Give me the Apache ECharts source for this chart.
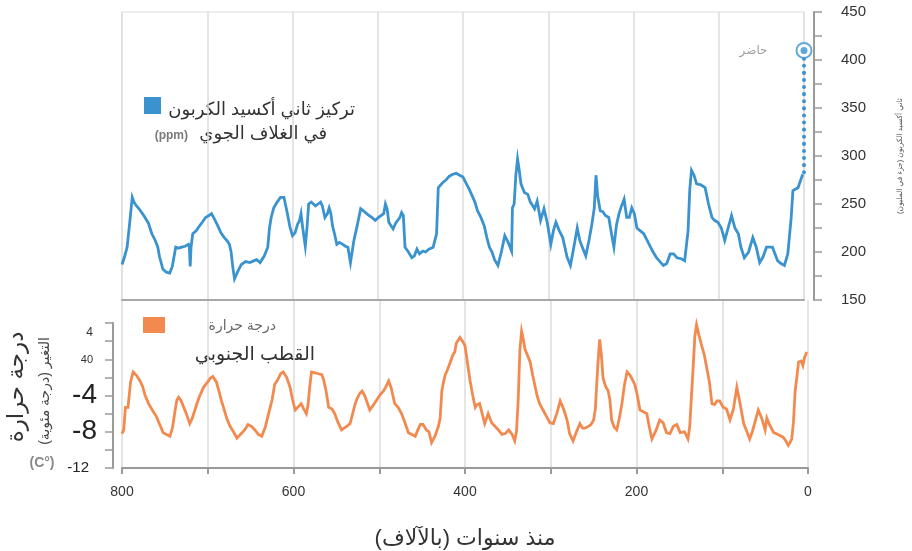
<!DOCTYPE html>
<html>
<head>
<meta charset="utf-8">
<script src="https://cdn.jsdelivr.net/npm/echarts@6/dist/echarts.min.js"></script>
<style>
  html, body { margin: 0; padding: 0; background: #fff; }
  #chart { width: 912px; height: 551px; }
</style>
</head>
<body>
<div id="chart"></div>
<script>
// CO2 record (thousands of years ago, ppm)
const co2Age = [1.5, 7, 13, 15, 19, 23, 27, 31, 37, 44, 48, 52, 56, 60, 65, 70, 74, 77, 81, 85, 89, 93, 97, 101, 105, 108, 112, 116, 121, 126, 129, 132, 134, 136, 140, 144, 149, 153, 157, 161, 165, 169, 173, 177, 180, 184, 188, 192, 196, 199, 202, 205, 208, 211, 214, 217, 220, 223, 226, 229, 233, 236, 239, 242, 244, 246, 249, 252, 256, 260, 263, 266, 270, 274, 278, 283, 287, 291, 294, 297, 301, 305, 309, 313, 316, 318, 321, 324, 328, 332, 334, 336, 338, 340, 342, 343, 347, 351, 355, 359, 363, 366, 369, 372, 375, 379, 383, 386, 390, 393, 396, 400, 404, 408, 412, 416, 420, 423, 426, 429, 431, 435, 440, 444, 447, 451, 454, 457, 460, 464, 468, 470, 472, 474, 476, 479, 482, 485, 487, 489, 491, 493, 495, 499, 503, 507, 510, 513, 517, 520, 524, 528, 532, 535, 538, 541, 545, 548, 551, 553, 555, 557, 559, 562, 565, 567, 570, 573, 575, 578, 581, 583, 585, 588, 590, 592, 594, 597, 600, 603, 606, 610, 614, 618, 622, 625, 627, 629, 633, 638, 642, 645, 650, 655, 660, 664, 668, 670, 672, 674, 677, 680, 684, 688, 692, 695, 698, 702, 705, 707, 710, 713, 717, 719, 720, 721, 722, 726, 730, 734, 737, 739, 741, 744, 748, 752, 756, 758, 761, 765, 769, 773, 776, 780, 783, 786, 788, 791, 794, 797, 800];
const co2Ppm = [281, 267, 264, 236, 198, 186, 188, 191, 205, 205, 195, 189, 205, 215, 200, 194, 205, 219, 225, 238, 225, 212, 225, 231, 233, 236, 250, 267, 270, 271, 280, 285, 265, 222, 191, 193, 194, 198, 198, 188, 186, 190, 194, 200, 205, 212, 219, 222, 225, 240, 246, 236, 236, 255, 248, 240, 228, 205, 220, 236, 238, 242, 243, 258, 280, 246, 228, 213, 196, 205, 212, 225, 205, 186, 195, 215, 222, 231, 222, 208, 230, 245, 233, 253, 245, 248, 252, 260, 262, 271, 285, 297, 280, 250, 246, 201, 210, 217, 200, 186, 192, 200, 205, 215, 227, 236, 243, 252, 260, 266, 271, 278, 280, 282, 281, 279, 275, 273, 270, 267, 219, 205, 203, 200, 201, 198, 203, 196, 194, 200, 205, 238, 241, 236, 236, 230, 224, 228, 231, 245, 250, 240, 240, 236, 233, 236, 238, 240, 243, 245, 228, 212, 189, 205, 206, 208, 210, 208, 220, 227, 240, 246, 240, 236, 248, 252, 250, 248, 250, 252, 250, 225, 206, 225, 240, 232, 229, 220, 217, 226, 240, 257, 257, 252, 246, 236, 225, 205, 196, 189, 192, 191, 189, 190, 187, 180, 172, 184, 200, 208, 212, 215, 220, 228, 235, 240, 238, 236, 232, 231, 226, 222, 219, 205, 185, 205, 208, 206, 205, 204, 205, 206, 185, 178, 179, 182, 195, 205, 212, 219, 230, 236, 240, 245, 248, 252, 257, 230, 205, 195, 187];

// present-day value
const presentAge = [0, 0];
const presentPpm = [283, 410];

// Antarctic temperature change (thousands of years ago, degrees C)
const tempAge = [1.5, 4, 6, 8, 11, 13, 15, 17, 19, 21, 23, 26, 29, 31, 35, 40, 45, 48, 50, 54, 58, 62, 65, 68, 72, 75, 79, 83, 87, 91, 95, 99, 103, 106, 109, 112, 115, 118, 121, 124, 127, 130, 132, 134, 136, 138, 140, 144, 149, 153, 157, 161, 165, 169, 173, 177, 182, 185, 188, 192, 196, 199, 202, 205, 208, 211, 214, 217, 220, 223, 226, 229, 231, 233, 236, 239, 241, 243, 245, 246, 248, 250, 253, 256, 260, 263, 266, 270, 274, 278, 281, 285, 289, 293, 297, 301, 305, 309, 313, 316, 318, 321, 324, 327, 330, 332, 334, 336, 338, 340, 342, 345, 349, 353, 357, 361, 365, 369, 373, 377, 380, 383, 386, 388, 391, 394, 397, 400, 403, 406, 408, 410, 412, 414, 416, 419, 421, 423, 425, 427, 429, 431, 435, 439, 442, 445, 449, 452, 455, 458, 462, 466, 470, 474, 478, 482, 486, 489, 492, 495, 498, 501, 505, 508, 511, 514, 517, 520, 523, 526, 528, 531, 534, 538, 541, 544, 548, 552, 555, 559, 562, 565, 567, 571, 575, 579, 581, 583, 585, 588, 591, 594, 598, 601, 604, 606, 608, 610, 612, 615, 618, 622, 625, 629, 633, 637, 641, 645, 649, 653, 657, 662, 666, 670, 674, 678, 681, 684, 687, 690, 694, 697, 700, 705, 710, 713, 715, 718, 721, 725, 728, 731, 734, 736, 738, 741, 744, 748, 752, 756, 760, 764, 769, 773, 776, 779, 783, 787, 790, 793, 796, 798, 800];
const tempC = [0.8, 0.2, -0.7, -0.2, -0.3, -2, -3.5, -7, -8.8, -9.2, -9.5, -9.0, -8.6, -8.8, -8.3, -8.1, -7.2, -6.5, -7.8, -6.5, -5.6, -7.0, -8.0, -8.8, -7.8, -7.1, -5.0, -3.1, -5.5, -6.7, -5.5, -5.3, -4.6, -4.6, -5.0, -4.9, -2.5, -1.0, 0.5, 1.5, 2.6, 3.8, 2.5, -1, -4.2, -7.5, -8.8, -8.0, -8.1, -7.2, -7.4, -8.2, -8.1, -7.0, -6.7, -7.8, -8.8, -7.5, -6.0, -5.8, -5.6, -4.0, -2.8, -2.2, -1.7, -1.4, -2.8, -4.9, -6.5, -7.8, -7.5, -6.7, -4.5, -3.5, -3.0, -2.1, 0.5, 2.2, -0.5, -2.1, -5.5, -6.7, -7.2, -7.4, -7.6, -7.6, -7.1, -8.0, -9.0, -8.2, -6.7, -5.5, -4.6, -6.0, -7.1, -7.0, -6.3, -5.6, -4.9, -4.0, -3.1, -1.8, -0.3, 0.4, 1.1, 2.2, 3.1, 1.0, -4.6, -8.0, -9.0, -8.3, -7.8, -8.2, -8.3, -7.8, -7.4, -7.0, -6.0, -7.1, -6.0, -4.9, -5.0, -5.3, -4.0, -2.4, -0.5, 1.5, 2.0, 2.4, 2.4, 1.8, 0.8, 0.5, 0.4, -0.8, -1.3, -1.7, -2.5, -3.5, -6.5, -7.4, -8.5, -9.2, -8.0, -7.8, -7.2, -7.2, -7.8, -8.5, -8.3, -8.1, -7.0, -6.0, -5.3, -4.9, -3.2, -2.4, -3.0, -3.5, -3.8, -4.2, -4.8, -5.2, -5.6, -4.8, -4.0, -3.5, -3.8, -4.4, -4.9, -6.0, -7.1, -7.4, -7.6, -7.8, -7.0, -6.0, -5.5, -5.3, -3.5, -2.2, -1.7, -1.6, -1.5, -1.4, -3.0, -5.0, -6.0, -5.5, -4.9, -5.2, -5.6, -4.5, -3.1, -3.1, -2.0, -1.7, -1.4, -1.6, -2.2, -2.8, -4.5, -6.0, -7.5, -8.5, -8.3, -7.8, -7.4, -7.2, -7.8, -8.3, -8.7, -8.0, -7.4, -6.5, -5.5, -4.6, -3.5, -2.5, -1.9, -2.1, -2.5, -3.1, -4.2, -5.0, -4.9, -6.5, -7.1, -6.0, -5.3, -4.6, -4.2, -4.5, -5.6, -7.5, -8.5, -8.3, -8.1, -7.2, -6.3, -5.7, -4.9, -4.0, -3.0, -2.4, -1.8, -1.4, -2.5, -5.3, -5.3, -7.8, -8.2];

// tick labels
const co2Ticks = [150, 200, 250, 300, 350, 400, 450];
const tempTicks = [-12, -8, -4, 0, 4];
const tempTickText = { '-12': '-12', '-8': '-8', '-4': '-4', '0': '40', '4': '4' };
const ageTicks = [0, 200, 400, 600, 800];

const RLM = '\u200F';
const FONT = 'Liberation Sans, DejaVu Sans, sans-serif';
const BLUE = '#3a93cf';
const ORANGE = '#f28a4f';
const GRID_LINE = '#dcdcdc';
const AXIS_LINE = '#9a9a9a';

function pairs(xs, ys) {
    return xs.map(function (x, i) { return [x, ys[i]]; });
}

let chart = echarts.init(document.getElementById('chart'), null, { renderer: 'canvas' });

const ageAxisBase = {
    type: 'value',
    inverse: true,
    min: 0,
    max: 800,
    interval: 100,
    splitLine: { show: true, lineStyle: { color: GRID_LINE, width: 1.5 } },
    axisTick: { show: false },
    axisLabel: { show: false },
};

const option = {
    backgroundColor: '#fff',
    animation: false,
    textStyle: { fontFamily: FONT },
    grid: [
        { left: 122, width: 686, top: 12, height: 288, show: true, borderColor: '#dddddd', borderWidth: 1 },
        { left: 122, width: 686, top: 323, height: 150 },
        { left: 122, width: 686, top: 300, height: 23 },
    ],
    xAxis: [
        Object.assign({}, ageAxisBase, {
            gridIndex: 0,
            position: 'bottom',
            axisLine: { show: true, onZero: false, lineStyle: { color: '#a8a8a8', width: 2 } },
        }),
        Object.assign({}, ageAxisBase, {
            gridIndex: 1,
            position: 'bottom',
            axisLine: { show: true, onZero: false, lineStyle: { color: AXIS_LINE, width: 2 } },
            axisTick: { show: true, length: 6, lineStyle: { color: AXIS_LINE, width: 2 } },
            axisLabel: {
                show: true,
                margin: 17,
                fontSize: 14,
                color: '#333',
                formatter: function (v) { return ageTicks.indexOf(v) >= 0 ? String(v) : ''; },
            },
            name: RLM + 'منذ سنوات (بالآلاف)' + RLM,
            nameLocation: 'middle',
            nameGap: 60,
            nameTextStyle: { fontSize: 22, color: '#333' },
        }),
        Object.assign({}, ageAxisBase, {
            gridIndex: 2,
            axisLine: { show: false, onZero: false },
        }),
    ],
    yAxis: [
        {
            type: 'value',
            gridIndex: 0,
            position: 'right',
            offset: 10,
            min: 150,
            max: 450,
            interval: 25,
            splitLine: { show: false },
            axisLine: { show: true, onZero: false, lineStyle: { color: AXIS_LINE, width: 2 } },
            axisTick: { show: true, length: 8, lineStyle: { color: AXIS_LINE, width: 1.5 } },
            axisLabel: {
                margin: 27,
                fontSize: 15,
                color: '#333',
                formatter: function (v) { return co2Ticks.indexOf(v) >= 0 ? String(v) : ''; },
            },
            name: RLM + 'ثاني أكسيد الكربون (جزء في المليون)' + RLM,
            nameLocation: 'middle',
            nameRotate: 90,
            nameGap: 82,
            nameTextStyle: { fontSize: 7.5, color: '#555' },
        },
        {
            type: 'value',
            gridIndex: 1,
            position: 'left',
            offset: 9,
            min: -12,
            max: 4,
            interval: 2,
            splitLine: { show: false },
            axisLine: { show: true, onZero: false, lineStyle: { color: AXIS_LINE, width: 2 } },
            axisTick: { show: true, length: 8, lineStyle: { color: AXIS_LINE, width: 1.5 } },
            axisLabel: {
                margin: 16,
                color: '#222',
                formatter: function (v) {
                    if (tempTicks.indexOf(v) < 0) return '';
                    const t = tempTickText[String(v)];
                    if (v === 4) return '{s4|' + t + '}';
                    if (v === 0) return '{s0|' + t + '}';
                    if (v === -12) return '{m|' + t + '}';
                    return '{b|' + t + '}';
                },
                rich: {
                    s4: { fontSize: 12, color: '#333', padding: [20, 4, 0, 0] },
                    s0: { fontSize: 11, color: '#333', padding: [2, 4, 0, 0] },
                    m: { fontSize: 15, color: '#222', padding: [0, 8, 0, 0] },
                    b: { fontSize: 28, color: '#222' },
                },
            },
        },
        {
            type: 'value',
            gridIndex: 2,
            show: false,
            splitLine: { show: false },
        },
    ],
    series: [
        {
            name: 'co2',
            type: 'line',
            xAxisIndex: 0,
            yAxisIndex: 0,
            data: pairs(co2Age, co2Ppm),
            showSymbol: false,
            clip: false,
            lineStyle: { color: BLUE, width: 2.8, join: 'miter' },
            z: 3,
        },
        {
            name: 'present',
            type: 'line',
            xAxisIndex: 0,
            yAxisIndex: 0,
            data: pairs(presentAge, presentPpm),
            showSymbol: false,
            clip: false,
            lineStyle: { color: BLUE, width: 4, type: [0.1, 7], cap: 'round' },
            z: 3,
        },
        {
            name: 'present-ring',
            type: 'scatter',
            xAxisIndex: 0,
            yAxisIndex: 0,
            data: [[presentAge[1], presentPpm[1]]],
            symbol: 'circle',
            symbolSize: 15,
            clip: false,
            itemStyle: { color: '#fff', borderColor: BLUE, borderWidth: 2 },
            label: {
                show: true,
                position: 'left',
                distance: 28,
                formatter: 'حاضر',
                fontSize: 12,
                color: '#888',
            },
            z: 4,
        },
        {
            name: 'present-dot',
            type: 'scatter',
            xAxisIndex: 0,
            yAxisIndex: 0,
            data: [[presentAge[1], presentPpm[1]]],
            symbol: 'circle',
            symbolSize: 7,
            clip: false,
            itemStyle: { color: BLUE },
            z: 5,
        },
        {
            name: 'temp',
            type: 'line',
            xAxisIndex: 1,
            yAxisIndex: 1,
            data: pairs(tempAge, tempC),
            showSymbol: false,
            clip: false,
            lineStyle: { color: ORANGE, width: 2.8, join: 'miter' },
            z: 3,
        },
    ],
    graphic: [
        // CO2 key
        { type: 'rect', shape: { x: 144, y: 97, width: 17, height: 17 }, style: { fill: BLUE } },
        { type: 'text', x: 355, y: 110, style: { text: 'تركيز ثاني أكسيد الكربون', fontSize: 18, fill: '#333', align: 'right', verticalAlign: 'middle', fontFamily: FONT } },
        { type: 'text', x: 327, y: 134, style: { text: 'في الغلاف الجوي', fontSize: 18, fill: '#333', align: 'right', verticalAlign: 'middle', fontFamily: FONT } },
        { type: 'text', x: 188, y: 136, style: { text: '(ppm)', fontSize: 12, fontWeight: 'bold', fill: '#7a7a7a', align: 'right', verticalAlign: 'middle', fontFamily: FONT } },
        // temperature key
        { type: 'rect', shape: { x: 143, y: 317, width: 22, height: 16 }, style: { fill: ORANGE } },
        { type: 'text', x: 276, y: 326, style: { text: 'درجة حرارة', fontSize: 14, fill: '#666', align: 'right', verticalAlign: 'middle', fontFamily: FONT } },
        { type: 'text', x: 315, y: 355, style: { text: 'القطب الجنوبي', fontSize: 19, fill: '#333', align: 'right', verticalAlign: 'middle', fontFamily: FONT } },
        // left axis titles
        { type: 'text', x: 17, y: 387, rotation: Math.PI / 2, style: { text: 'درجة حرارة', fontSize: 23, fill: '#333', align: 'center', verticalAlign: 'middle', fontFamily: FONT } },
        { type: 'text', x: 45, y: 391, rotation: Math.PI / 2, style: { text: RLM + 'التغير (درجة مئوية)' + RLM, fontSize: 14, fill: '#444', align: 'center', verticalAlign: 'middle', fontFamily: FONT } },
        { type: 'text', x: 42, y: 463, style: { text: '(C°)', fontSize: 14, fontWeight: 'bold', fill: '#888', align: 'center', verticalAlign: 'middle', fontFamily: FONT } },
    ],
};

chart.setOption(option);
</script>
</body>
</html>
